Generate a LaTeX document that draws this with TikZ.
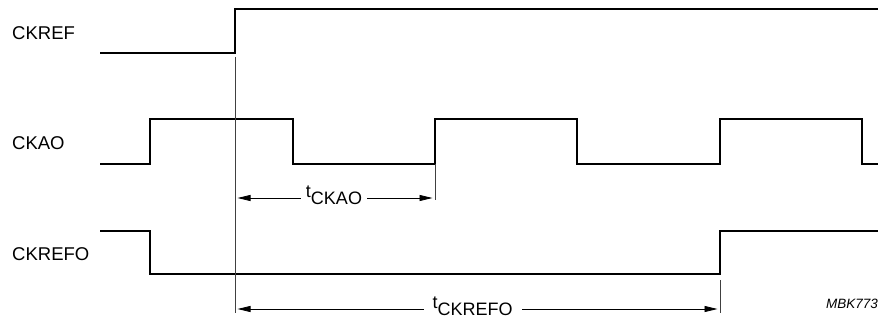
\documentclass[tikz,border=0pt]{standalone}
\usepackage{fontspec}
\setmainfont{Liberation Sans}
\usetikzlibrary{arrows.meta}

\begin{document}
\begin{tikzpicture}[x=1pt, y=-1pt,
    signal/.style={line width=2.8pt},
    marker/.style={line width=0.8pt, black!75},
    timing/.style={line width=0.8pt, {Triangle[length=13pt,width=6pt]}-{Triangle[length=13pt,width=6pt]}, shorten <=2.5pt, shorten >=2.5pt},
    sig/.style={anchor=west, inner sep=0pt, font=\fontsize{18.5}{21}\selectfont},
    tlabel/.style={fill=white, inner ysep=1pt, font=\fontsize{18}{21}\selectfont}]
\useasboundingbox (0,0) rectangle (880,323);

\node[sig] (ckref)  at (12,33.5)  {CKREF};
\node[sig] (ckao)   at (12,143.5) {CKAO};
\node[sig] (ckrefo) at (12,254.5) {CKREFO};

% waveforms
\draw[signal] (100,53) -- (235,53) -- (235,9) -- (878,9);
\draw[signal] (100,164) -- (150,164) -- (150,119) -- (293,119) -- (293,164)
    -- (435,164) -- (435,119) -- (577,119) -- (577,164)
    -- (720,164) -- (720,119) -- (862,119) -- (862,164) -- (878,164);
\draw[signal] (100,231) -- (150,231) -- (150,274) -- (720,274) -- (720,231) -- (878,231);

% reference lines
\coordinate (r0) at (235,57);
\coordinate (r1) at (235,313);
\coordinate (a0) at (435,164);
\coordinate (a1) at (435,200);
\coordinate (b0) at (720,280);
\coordinate (b1) at (720,313);
\draw[marker] (r0) -- (r1);
\draw[marker] (a0) -- (a1);
\draw[marker] (b0) -- (b1);

\coordinate (ta0) at (235,198);
\coordinate (ta1) at (435,198);
\coordinate (tb0) at (235,309);
\coordinate (tb1) at (720,309);
\draw[timing] (ta0) -- node[tlabel, inner xsep=5pt, pos=0.495] (tckao) {\smash{\raisebox{7pt}{t}}CKAO} (ta1);
\draw[timing] (tb0) -- node[tlabel, inner xsep=9pt, pos=0.49] (tckrefo) {\smash{\raisebox{7pt}{t}}CKREFO} (tb1);

\node[anchor=base east, inner sep=0pt, font=\fontsize{13.5}{15}\selectfont\itshape] (mbk) at (878,308) {MBK773};

\end{tikzpicture}
\end{document}
